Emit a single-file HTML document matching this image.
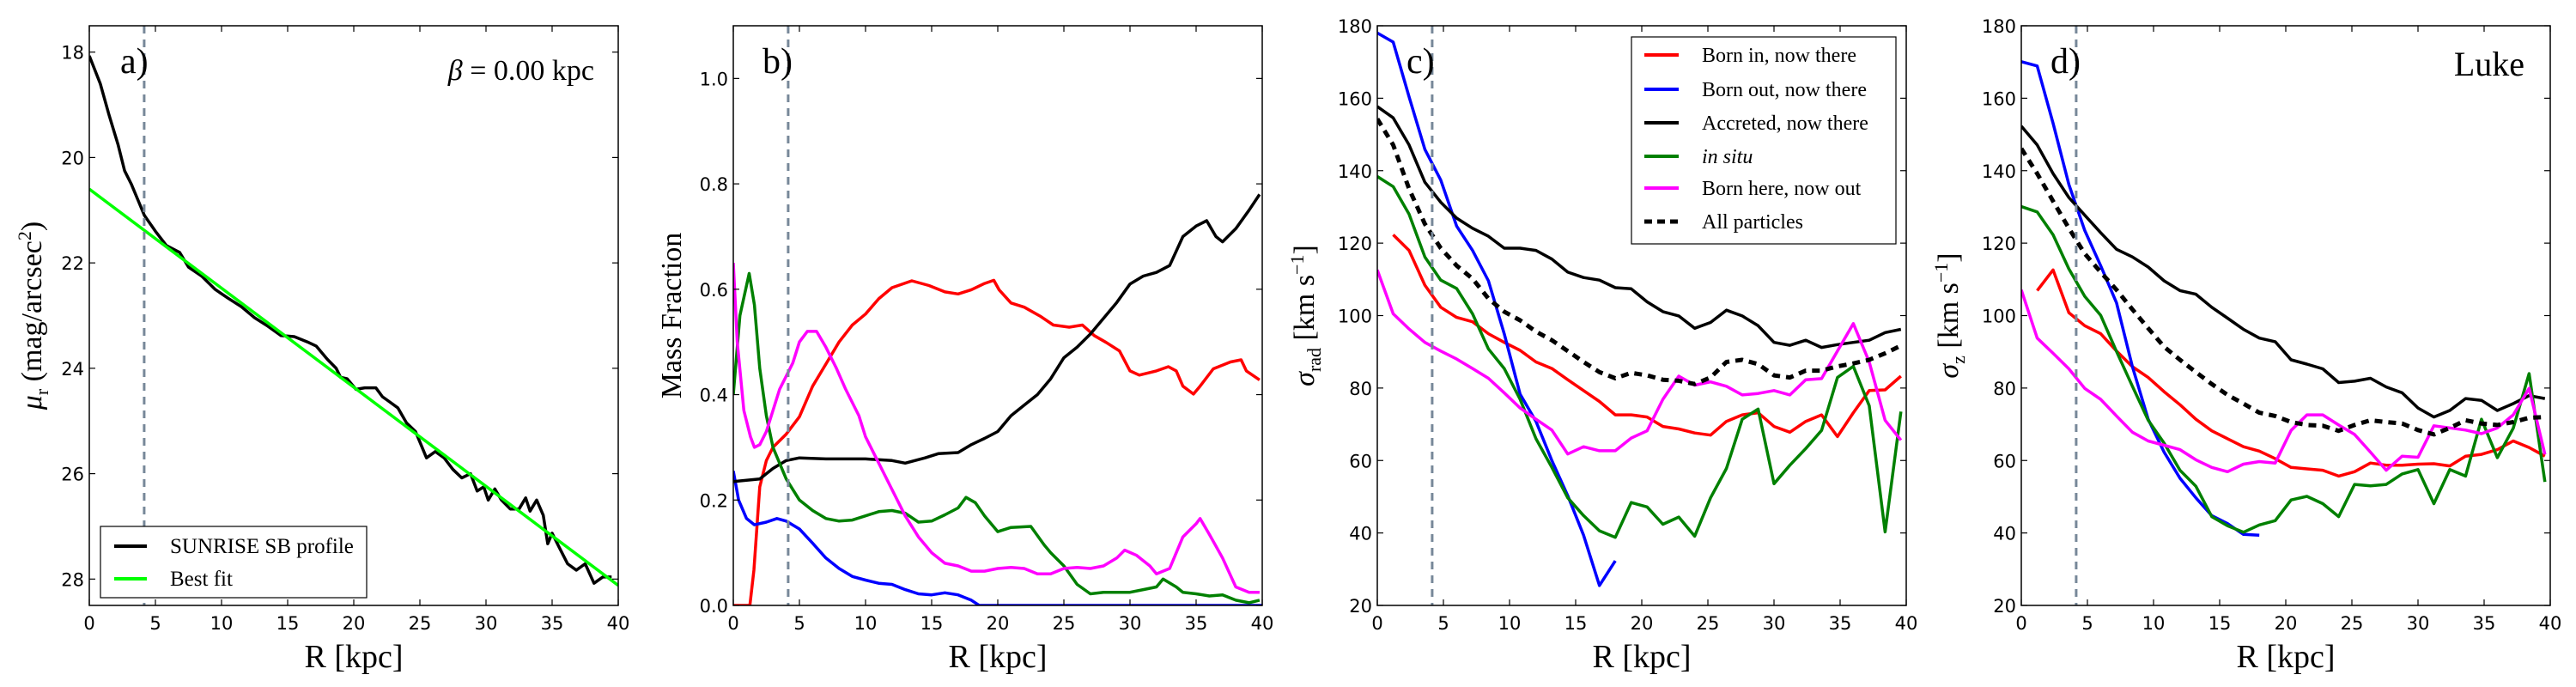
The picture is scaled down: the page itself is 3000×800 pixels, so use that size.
<!DOCTYPE html>
<html><head><meta charset="utf-8">
<style>
body{margin:0;background:#fff;}
svg{display:block;}
.tk{font-family:"DejaVu Sans","Liberation Sans",sans-serif;font-size:21px;fill:#000;}
.sf{font-family:"Liberation Serif","DejaVu Serif",serif;fill:#000;}
</style></head>
<body>
<svg id="fig" width="3000" height="800" viewBox="0 0 3000 800" xmlns="http://www.w3.org/2000/svg"></svg>
<script>
// ---------- Panel a data ----------
const aR=[0,0.83,1.5,2.17,2.67,3.17,3.67,4.17,5,5.83,6.83,7.5,8.5,9.5,10.5,11.5,12.5,13.5,14.5,15.5,16.5,17.17,18,18.67,19,19.5,20.17,20.83,21.67,22.17,22.67,23.33,24,24.67,25.5,26.17,26.83,27.5,28.17,28.83,29.33,29.83,30.17,30.67,31.17,31.83,32.5,33,33.33,33.83,34.33,34.67,35,35.5,36.17,36.83,37.5,38.17,38.83,39.5];
const aMu=[18.07,18.6,19.2,19.75,20.25,20.5,20.8,21.1,21.4,21.67,21.8,22.08,22.25,22.5,22.67,22.83,23.04,23.2,23.38,23.4,23.5,23.58,23.83,24.0,24.17,24.2,24.4,24.37,24.37,24.54,24.63,24.75,25.04,25.2,25.7,25.58,25.7,25.92,26.08,26.0,26.33,26.25,26.5,26.29,26.5,26.67,26.67,26.46,26.71,26.5,26.79,27.33,27.13,27.38,27.71,27.83,27.71,28.08,27.96,27.96];
const fitR=[0,40];
const fitMu=[20.6,28.12];
// ---------- Panel b data ----------
const bRedR=[0,1.25,1.56,2,2.5,3,4,5,6,7,8,9,10,11,12,13.5,14.8,16,17,18,19,19.7,20.1,21,22,23.2,24.2,25.4,26.4,27.3,28.2,29.2,30,30.7,32,32.9,33.5,34,34.8,35.3,36.3,37.6,38.4,38.8,39.8];
const bRed=[0,0,0.067,0.225,0.275,0.30,0.325,0.358,0.416,0.458,0.5,0.532,0.553,0.582,0.603,0.616,0.607,0.595,0.591,0.599,0.611,0.617,0.599,0.574,0.566,0.549,0.532,0.528,0.532,0.512,0.499,0.483,0.445,0.437,0.445,0.453,0.445,0.416,0.401,0.416,0.449,0.462,0.466,0.445,0.428];
const bBlackR=[0,2,3,4,5,7,10,12,13,14.5,15.5,17,18,19,20,21,22,23,24,25,26,27,28,29,30,31,32,33,34,35,35.8,36.5,37,38,39,39.8];
const bBlack=[0.235,0.24,0.26,0.275,0.28,0.278,0.278,0.275,0.27,0.28,0.288,0.29,0.305,0.317,0.33,0.36,0.38,0.40,0.43,0.47,0.49,0.515,0.545,0.575,0.61,0.625,0.632,0.645,0.70,0.72,0.73,0.70,0.69,0.715,0.75,0.78];
const bGreenR=[0,0.5,1.2,1.6,2,2.5,3,4,5,6,7,8,9,10,11,12,13,14,15,16,17,17.6,18.3,19,20,21,22.5,23.5,24,25,26,27,28,29,30,31,32,32.5,33.5,34,35,36,37,38,39,39.8];
const bGreen=[0.40,0.55,0.63,0.57,0.45,0.36,0.30,0.24,0.20,0.18,0.165,0.16,0.162,0.17,0.178,0.18,0.175,0.158,0.16,0.172,0.185,0.205,0.195,0.17,0.14,0.148,0.15,0.115,0.1,0.075,0.04,0.022,0.025,0.025,0.025,0.03,0.035,0.05,0.035,0.025,0.022,0.018,0.02,0.01,0.005,0.01];
const bMagR=[0,0.3,0.8,1.3,1.6,2,2.5,3,3.5,4.5,5,5.6,6.3,7,7.8,8.5,9.5,10,11,12,13,14,15,16,17,18,19,20,21,22,23,24,25,26,27,28,29,29.6,30.5,31.5,32,33,33.5,34,35,35.3,36,37,38,39,39.8];
const bMag=[0.65,0.5,0.37,0.32,0.30,0.305,0.33,0.37,0.41,0.46,0.50,0.52,0.52,0.49,0.45,0.41,0.36,0.32,0.27,0.22,0.17,0.13,0.1,0.08,0.075,0.065,0.065,0.07,0.072,0.07,0.06,0.06,0.07,0.072,0.07,0.075,0.09,0.105,0.095,0.075,0.06,0.07,0.1,0.13,0.155,0.165,0.135,0.09,0.035,0.025,0.025];
const bBlueR=[0,0.4,1,1.6,2.5,3.3,4,5,6,7,8,9,10,11,12,13,14,15,16,17,18,18.6,40];
const bBlue=[0.255,0.2,0.165,0.153,0.158,0.165,0.16,0.145,0.118,0.09,0.07,0.055,0.048,0.042,0.04,0.03,0.022,0.02,0.024,0.02,0.01,0,0];
// ---------- Panel c/d data (radial bins) ----------
const binR=[0,1.2,2.4,3.6,4.8,6,7.2,8.4,9.6,10.8,12,13.2,14.4,15.6,16.8,18,19.2,20.4,21.6,22.8,24,25.2,26.4,27.6,28.8,30,31.2,32.4,33.6,34.8,36,37.2,38.4,39.6];
const cRed=[null,122.3,118,108.4,102.3,99.5,98.3,95,92.6,90.4,87.2,85.4,82.3,79.3,76.3,72.6,72.6,72,69.4,68.7,67.6,67,70.8,72.6,73.2,69.4,67.8,70.8,72.6,66.6,73.2,79.3,79.5,83.3];
const cBlue=[178,175.5,160.4,145.9,137.4,124.7,118,109.6,95,78.3,70.8,60,50.3,39.4,25.5,32.3];
const cBlack=[157.7,154.6,147.1,136.8,131.3,126.9,124.1,121.9,118.6,118.6,118,115.6,112,110.5,109.8,107.7,107.4,103.8,101.1,99.9,96.5,98.1,101.5,99.9,97.2,92.6,91.8,93.2,91.2,92,92.6,93.2,95.3,96.2];
const cGreen=[138.4,135.6,128,116.2,109.8,107.5,100.5,90.8,85.4,76.9,66,58.1,49.7,44.8,40.6,38.8,48.4,47.2,42.4,44.4,39.1,49.7,57.8,71.4,74.2,53.6,58.7,63.3,68.3,82.9,86,75.1,40.3,73.5];
const cMag=[112.6,100.5,96.3,92.6,90.2,88,85.4,82.7,78.7,74.5,71.4,68.4,61.8,63.8,62.7,62.7,66.2,68.2,76.9,83.3,80.8,81.7,80.5,78.1,78.5,79.3,78.1,82.3,82.6,90.2,97.8,87.2,71.1,65.6];
const cAll=[154.3,147.1,135,125.3,118.6,113.8,110.2,104.7,101.1,98.7,95.6,93.2,90.2,87.2,84.4,82.7,84.2,83.5,82.3,82,81.1,82.9,87.2,87.8,86.6,83.5,82.9,84.8,84.8,86,86.8,87.8,89.6,91.7];
const dBlack=[152.3,147.1,139.2,132.6,127.7,122.9,118.3,116.2,113.4,109.6,106.9,105.9,102.3,99.3,96.2,93.8,92.8,87.8,86.6,85.3,81.5,81.9,82.7,80.3,78.7,74.5,72,73.8,77.1,76.6,73.8,75.7,77.9,77.1];
const dBlue=[170.1,168.9,153.1,136.2,123.5,113.8,103.5,85.9,71.4,62.3,55.1,49.7,44.8,42.6,39.6,39.4];
const dGreen=[130.1,128.6,122.3,112.9,105.3,100.1,90.1,80.5,71.1,64.8,57.3,52.9,44.5,42,40.2,42.2,43.4,49.1,50.1,48.1,44.5,53.4,53,53.4,56.3,57.5,48.1,57.5,55.7,71.4,60.8,68.9,84,54.1];
const dRed=[null,106.9,112.6,100.8,97.2,95,90.2,85.9,82.9,79,75.4,71.4,68.2,66,63.8,62.6,60.5,58.1,57.7,57.3,55.7,56.9,59.3,58.7,58.7,59,59.1,58.5,61.2,61.7,63,65.4,63.6,61.2];
const dMag=[107.1,93.8,89.6,85.3,79.9,76.9,72.3,67.8,65.4,64.2,63,60.2,58.1,56.9,59,59.7,59.3,68.3,72.6,72.6,69.8,67.2,62.3,57.3,61.2,60.9,69.6,69,68.4,67.4,69,72.6,79.9,61.7];
const dAll=[146.1,139.2,131.6,124.1,117.1,112,107.1,101.7,96.5,91.4,87.8,84.4,81.1,78.1,75.7,73.2,72.3,70.6,69.8,69.6,68.2,69.8,71.1,70.6,70.2,68.4,67.2,69,71.1,70.2,69.8,70.6,71.8,72];
const xTicks=[0,5,10,15,20,25,30,35,40];
const aTicks=[18,20,22,24,26,28];
const bTicks=[0.0,0.2,0.4,0.6,0.8,1.0];
const sTicks=[20,40,60,80,100,120,140,160,180];
const rHalf=4.15;

const NS='http://www.w3.org/2000/svg';
const svg=document.getElementById('fig');
function mk(tag,attrs,parent,txt){const e=document.createElementNS(NS,tag);for(const k in attrs)e.setAttribute(k,attrs[k]);if(txt!==undefined)e.textContent=txt;(parent||svg).appendChild(e);return e;}
const TOP=30,BOT=705,W=616;
function panel(name,left,ymin,ymax,inv){
  const g=mk('g',{});
  
  
  const sx=v=>left+v/40*W;
  const sy=v=>inv? TOP+(v-ymin)/(ymax-ymin)*(BOT-TOP) : BOT-(v-ymin)/(ymax-ymin)*(BOT-TOP);
  return {g,sx,sy,left};
}
function axes(p,yt,fmt){
  const {g,sx,sy,left}=p;
  const clipId='clip'+left;
  const cp=mk('clipPath',{id:clipId},g);mk('rect',{x:left,y:TOP,width:W,height:BOT-TOP},cp);
  p.plot=mk('g',{'clip-path':'url(#'+clipId+')'},g);
  xTicks.forEach(v=>{
    const x=sx(v);
    mk('line',{x1:x,x2:x,y1:BOT,y2:BOT-7,stroke:'#000','stroke-width':1.2},g);
    mk('line',{x1:x,x2:x,y1:TOP,y2:TOP+7,stroke:'#000','stroke-width':1.2},g);
    const t=mk('text',{x:x,y:BOT+28,'text-anchor':'middle',class:'tk'},g,String(v));
    
    
  });
  yt.forEach(v=>{
    const y=sy(v);
    mk('line',{x1:left,x2:left+7,y1:y,y2:y,stroke:'#000','stroke-width':1.2},g);
    mk('line',{x1:left+W,x2:left+W-7,y1:y,y2:y,stroke:'#000','stroke-width':1.2},g);
    const t=mk('text',{x:left-6,y:y+8,'text-anchor':'end',class:'tk'},g,fmt(v));
    
    
  });
  const vl=mk('line',{x1:sx(rHalf),x2:sx(rHalf),y1:TOP,y2:BOT,stroke:'#778899','stroke-width':3,'stroke-dasharray':'9,7'},g);
  
  
  const xl=mk('text',{x:left+W/2,y:777,'text-anchor':'middle',class:'sf','font-size':38},g,'R [kpc]');
  
  
}
function frame(p){mk('rect',{x:p.left,y:TOP,width:W,height:BOT-TOP,fill:'none',stroke:'#000','stroke-width':1.5},p.g);}
function line(p,xs,ys,color,name,dash,w){
  let d='';let pen=false;
  ys.forEach((v,i)=>{if(v===null||v===undefined||i>=xs.length){pen=false;return;}d+=(pen?'L':'M')+p.sx(xs[i]).toFixed(1)+','+p.sy(v).toFixed(1);pen=true;});
  const el=mk('path',{d:d,fill:'none',stroke:color,'stroke-width':w||3.5,'stroke-linejoin':'round'},p.plot);
  if(dash)el.setAttribute('stroke-dasharray',dash);
  
  
}
function label(p,txt,x,y,name,size,anchor){
  const t=mk('text',{x:x,y:y,class:'sf','font-size':size||40,'text-anchor':anchor||'start'},p.g,txt);
  
  
  return t;
}
function ylab(p,x,html,name){
  const t=mk('text',{x:0,y:0,class:'sf','font-size':34,'text-anchor':'middle',transform:'translate('+x+','+((TOP+BOT)/2)+') rotate(-90)'},p.g);
  t.innerHTML=html;
  
  
}

// Panel a
const pa=panel('panel-a-surface-brightness',104,17.5,28.5,true);
axes(pa,aTicks,v=>String(v));
line(pa,aR,aMu,'#000','sb-profile-line');
line(pa,fitR,fitMu,'#00ff00','best-fit-line');
frame(pa);
label(pa,'a)',140,85,'panel-a-label',42);
const beta=label(pa,'',692,93,'beta-annotation',34,'end');
beta.innerHTML='<tspan font-style="italic">β</tspan> = 0.00 kpc';
ylab(pa,48,'<tspan font-style="italic">μ</tspan><tspan font-size="22" dy="8">r</tspan><tspan dy="-8"> (mag/arcsec</tspan><tspan font-size="22" dy="-12">2</tspan><tspan dy="12">)</tspan>','y-axis-title-a');
const lga=mk('g',{},pa.g);


mk('rect',{x:117,y:613,width:310,height:83,fill:'#fff',stroke:'#000','stroke-width':1.2},lga);
mk('line',{x1:133,x2:171,y1:636,y2:636,stroke:'#000','stroke-width':4},lga);
mk('line',{x1:133,x2:171,y1:674,y2:674,stroke:'#00ff00','stroke-width':4},lga);
mk('text',{x:198,y:644,class:'sf','font-size':25},lga,'SUNRISE SB profile');
mk('text',{x:198,y:682,class:'sf','font-size':25},lga,'Best fit');

// Panel b
const pb=panel('panel-b-mass-fraction',854,0,1.1,false);
axes(pb,bTicks,v=>v.toFixed(1));
line(pb,bRedR,bRed,'#ff0000','born-in-now-there-line');
line(pb,bBlueR,bBlue,'#0000ff','born-out-now-there-line');
line(pb,bBlackR,bBlack,'#000','accreted-now-there-line');
line(pb,bGreenR,bGreen,'#008000','in-situ-line');
line(pb,bMagR,bMag,'#ff00ff','born-here-now-out-line');
frame(pb);
label(pb,'b)',888,85,'panel-b-label',42);
ylab(pb,793,'Mass Fraction','y-axis-title-b');

// Panel c
const pc=panel('panel-c-sigma-rad',1604,20,180,false);
axes(pc,sTicks,v=>String(v));
line(pc,binR,cRed,'#ff0000','born-in-now-there-line');
line(pc,binR,cBlue,'#0000ff','born-out-now-there-line');
line(pc,binR,cBlack,'#000','accreted-now-there-line');
line(pc,binR,cGreen,'#008000','in-situ-line');
line(pc,binR,cMag,'#ff00ff','born-here-now-out-line');
line(pc,binR,cAll,'#000','all-particles-line','9,7',5);
frame(pc);
label(pc,'c)',1638,85,'panel-c-label',42);
ylab(pc,1530,'<tspan font-style="italic">σ</tspan><tspan font-size="22" dy="8">rad</tspan><tspan dy="-8"> [km s</tspan><tspan font-size="22" dy="-12">−1</tspan><tspan dy="12">]</tspan>','y-axis-title-c');
const lgc=mk('g',{},pc.g);


mk('rect',{x:1900,y:43,width:308,height:241,fill:'#fff',stroke:'#000','stroke-width':1.2},lgc);
const legNames=['Born in, now there','Born out, now there','Accreted, now there','in situ','Born here, now out','All particles'];
const legCols=['#ff0000','#0000ff','#000','#008000','#ff00ff','#000'];
const legY=[64,104,143,182,219,258];
legNames.forEach((n,i)=>{
  const l=mk('line',{x1:1915,x2:1955,y1:legY[i],y2:legY[i],stroke:legCols[i],'stroke-width':i==5?5:4},lgc);
  if(i==5)l.setAttribute('stroke-dasharray','9,6');
  const t=mk('text',{x:1982,y:legY[i]+8,class:'sf','font-size':24},lgc,n);
  if(i==3)t.setAttribute('font-style','italic');
  
  
});

// Panel d
const pd=panel('panel-d-sigma-z',2354,20,180,false);
axes(pd,sTicks,v=>String(v));
line(pd,binR,dRed,'#ff0000','born-in-now-there-line');
line(pd,binR,dBlue,'#0000ff','born-out-now-there-line');
line(pd,binR,dBlack,'#000','accreted-now-there-line');
line(pd,binR,dGreen,'#008000','in-situ-line');
line(pd,binR,dMag,'#ff00ff','born-here-now-out-line');
line(pd,binR,dAll,'#000','all-particles-line','9,7',5);
frame(pd);
label(pd,'d)',2388,85,'panel-d-label',42);
label(pd,'Luke',2940,88,'galaxy-name-label',40,'end');
ylab(pd,2280,'<tspan font-style="italic">σ</tspan><tspan font-size="22" dy="8">z</tspan><tspan dy="-8"> [km s</tspan><tspan font-size="22" dy="-12">−1</tspan><tspan dy="12">]</tspan>','y-axis-title-d');
</script>
</body></html>
